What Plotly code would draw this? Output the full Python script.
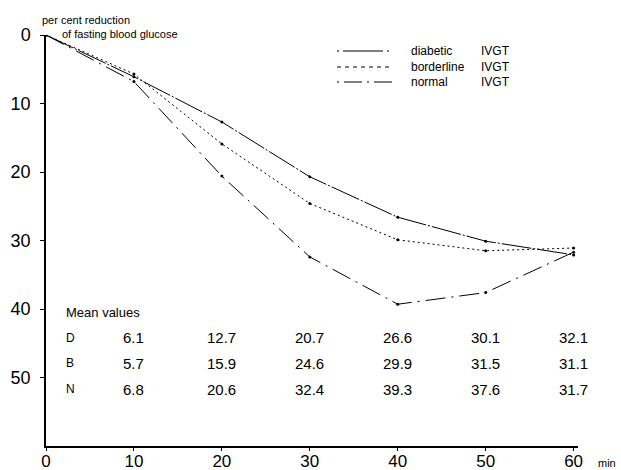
import plotly.graph_objects as go

minutes = [0, 10, 20, 30, 40, 50, 60]
diabetic = [0, 6.1, 12.7, 20.7, 26.6, 30.1, 32.1]
borderline = [0, 5.7, 15.9, 24.6, 29.9, 31.5, 31.1]
normal = [0, 6.8, 20.6, 32.4, 39.3, 37.6, 31.7]
table_rows = ["D", "B", "N"]
table_labels = {
    "D": ["6.1", "12.7", "20.7", "26.6", "30.1", "32.1"],
    "B": ["5.7", "15.9", "24.6", "29.9", "31.5", "31.1"],
    "N": ["6.8", "20.6", "32.4", "39.3", "37.6", "31.7"],
}
x_ticks = [0, 10, 20, 30, 40, 50, 60]
y_ticks = [0, 10, 20, 30, 40, 50]

W, H = 621, 470
L, R, T, B = 46, 43, 35, 24
pw, ph = W - L - R, H - T - B


def px(xp):
    return (xp - L) / pw


def py(yp):
    return 1 - (yp - T) / ph


FONT = "Liberation Sans, Arial, sans-serif"
styles = {
    "diabetic": "30px,2px,2px,2px",
    "borderline": "2px,3px",
    "normal": "20px,6px,2px,6px",
}
legend_styles = {
    "diabetic": "2px,4px,40px,4px",
    "borderline": "4px,4px",
    "normal": "2px,5px,18px,5px",
}

fig = go.Figure()
for name, vals in [("diabetic", diabetic), ("borderline", borderline), ("normal", normal)]:
    fig.add_trace(go.Scatter(
        x=minutes, y=vals, mode="lines+markers", name=name,
        line=dict(color="black", width=1, dash=styles[name]),
        marker=dict(color="black", size=3),
        showlegend=False,
    ))

# manual legend
leg_rows = [("diabetic", 51), ("borderline", 67), ("normal", 82)]
for name, yp in leg_rows:
    fig.add_shape(type="line", xref="paper", yref="paper",
                  x0=px(337), x1=px(392), y0=py(yp), y1=py(yp),
                  line=dict(color="black", width=1, dash=legend_styles[name]))
    fig.add_annotation(xref="paper", yref="paper", x=px(409), y=py(yp), text=name,
                       showarrow=False, xanchor="left", yanchor="middle",
                       font=dict(family=FONT, size=12, color="black"))
    fig.add_annotation(xref="paper", yref="paper", x=px(479), y=py(yp), text="IVGT",
                       showarrow=False, xanchor="left", yanchor="middle",
                       font=dict(family=FONT, size=12, color="black"))

# axis title
fig.add_annotation(xref="paper", yref="paper", x=px(40), y=py(20), text="per cent reduction",
                   showarrow=False, xanchor="left", yanchor="middle",
                   font=dict(family=FONT, size=11, color="black"))
fig.add_annotation(xref="paper", yref="paper", x=px(60), y=py(34), text="of fasting blood glucose",
                   showarrow=False, xanchor="left", yanchor="middle",
                   font=dict(family=FONT, size=11, color="black"))
fig.add_annotation(xref="paper", yref="paper", x=px(596), y=py(463), text="min",
                   showarrow=False, xanchor="left", yanchor="middle",
                   font=dict(family=FONT, size=11, color="black"))

# mean values table
fig.add_annotation(x=2.0, y=40.5, text="Mean values", showarrow=False,
                   xanchor="left", yanchor="middle",
                   font=dict(family=FONT, size=13, color="black"))
row_y = {"D": 44.2, "B": 47.9, "N": 51.7}
for r in table_rows:
    fig.add_annotation(x=2.0, y=row_y[r], text=r, showarrow=False,
                       xanchor="left", yanchor="middle",
                       font=dict(family=FONT, size=12, color="black"))
    for xv, lab in zip(x_ticks[1:], table_labels[r]):
        fig.add_annotation(x=xv, y=row_y[r], text=lab, showarrow=False,
                           xanchor="center", yanchor="middle",
                           font=dict(family=FONT, size=15, color="black"))

fig.update_layout(
    width=W, height=H,
    margin=dict(l=L, r=R, t=T, b=B, autoexpand=False),
    paper_bgcolor="white", plot_bgcolor="white",
    xaxis=dict(range=[0, 60.5], tickvals=x_ticks, showgrid=False, zeroline=False,
               showline=True, linecolor="black", linewidth=1.5, automargin=False,
               ticks="outside", ticklen=3, tickcolor="black", ticklabelstandoff=-4,
               tickfont=dict(family=FONT, size=17, color="black")),
    yaxis=dict(range=[60, 0], tickvals=y_ticks, showgrid=False, zeroline=False,
               showline=True, linecolor="black", linewidth=1.5, automargin=False,
               ticks="outside", ticklen=4, tickcolor="black", ticklabelstandoff=6,
               tickfont=dict(family=FONT, size=18, color="black")),
)

fig.write_html("out.html", config={"displayModeBar": False},
               post_script="document.body.style.margin='0px';")
